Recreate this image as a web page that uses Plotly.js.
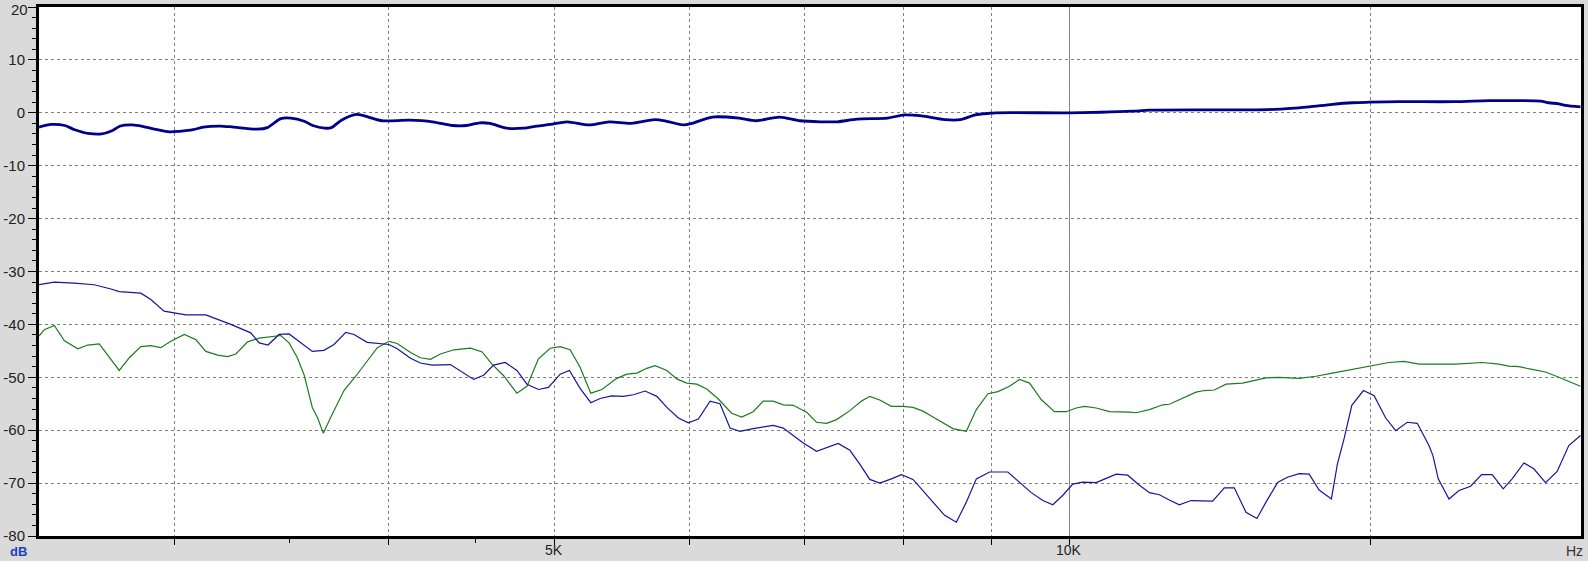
<!DOCTYPE html>
<html>
<head>
<meta charset="utf-8">
<script src="https://cdn.plot.ly/plotly-3.0.1.min.js"></script>
<style>
html,body{margin:0;padding:0;background:#dadada;}
#chart{width:1588px;height:561px;}
</style>
</head>
<body>
<div id="chart"></div>
<script>
// Frequency axis (Hz) and level (dB) values
var mainFreq = [2500,2542,2588,2623,2671,2720,2758,2789,2834,2886,2932,2979,3020,3076,3118,3190,3248,3353,3399,3461,3508,3572,3613,3671,3705,3755,3833,3894,3966,4113,4244,4362,4442,4523,4585,4690,4797,4886,4975,5087,5240,5384,5545,5725,5817,5950,6018,6184,6412,6560,6771,6958,7151,7315,7515,7828,8009,8193,8458,8632,8810,8972,9054,10000,10435,10888,11136,13053,13561,13805,14243,14632,14965,15579,16773,17581,18305,18846,19057,19315,19489,19886];
var mainDb = [-2.7,-2.2,-2.4,-3.2,-3.9,-4.0,-3.4,-2.5,-2.3,-2.7,-3.2,-3.6,-3.5,-3.2,-2.7,-2.5,-2.7,-3.1,-2.8,-1.1,-1.0,-1.6,-2.4,-2.9,-2.8,-1.4,-0.3,-0.8,-1.5,-1.4,-1.7,-2.4,-2.4,-1.9,-2.0,-2.9,-2.9,-2.5,-2.2,-1.7,-2.3,-1.7,-2.0,-1.3,-1.6,-2.3,-2.0,-0.8,-1.0,-1.5,-0.8,-1.5,-1.7,-1.7,-1.2,-1.0,-0.4,-0.6,-1.3,-1.3,-0.4,-0.1,0.0,0.0,0.1,0.3,0.5,0.6,0.9,1.1,1.6,1.9,2.0,2.1,2.1,2.3,2.3,2.2,1.9,1.7,1.4,1.1];

var blueFreq = [2500,2552,2621,2693,2754,2785,2867,2906,2958,3046,3129,3179,3236,3324,3362,3402,3453,3500,3571,3611,3668,3718,3777,3819,3888,3958,4003,4048,4121,4176,4243,4348,4427,4486,4547,4608,4681,4755,4820,4895,4961,5040,5103,5177,5252,5318,5402,5487,5562,5650,5740,5818,5909,5989,6070,6166,6249,6334,6420,6535,6713,6804,6896,6990,7116,7213,7326,7442,7542,7644,7747,7870,7976,8102,8211,8322,8454,8588,8704,8822,8981,9204,9350,9499,9648,9778,9911,10044,10181,10365,10506,10648,10815,10987,11136,11286,11438,11593,11777,11909,12124,12316,12482,12680,12868,13026,13230,13408,13621,13805,13991,14224,14339,14469,14620,14850,15066,15302,15510,15753,15966,16219,16306,16423,16662,16887,17155,17409,17659,17922,18139,18428,18676,18972,19271,19576,19886];
var blueDb = [-32.5,-32.0,-32.2,-32.5,-33.3,-33.8,-34.1,-35.3,-37.5,-38.2,-38.2,-39.0,-40.0,-41.6,-43.5,-43.9,-41.9,-41.8,-44.0,-45.1,-44.9,-43.8,-41.5,-41.9,-43.4,-43.6,-43.8,-44.6,-46.4,-47.3,-47.7,-47.6,-49.2,-50.4,-49.6,-47.7,-47.2,-48.7,-51.3,-52.3,-51.9,-49.4,-48.7,-52.1,-54.8,-54.0,-53.5,-53.6,-53.3,-52.6,-53.6,-55.7,-57.7,-58.6,-57.9,-54.5,-55.0,-59.6,-60.2,-59.7,-59.1,-59.6,-61.0,-62.4,-64.0,-63.3,-62.5,-63.8,-66.4,-69.3,-70.0,-69.2,-68.4,-69.3,-71.4,-73.6,-76.1,-77.4,-73.6,-69.2,-67.9,-67.9,-69.8,-71.8,-73.3,-74.1,-72.3,-70.2,-69.8,-69.9,-69.1,-68.3,-68.5,-70.4,-71.8,-72.2,-73.2,-74.1,-73.3,-73.3,-73.4,-70.9,-70.9,-75.5,-76.7,-73.6,-69.9,-68.9,-68.2,-68.3,-71.3,-73.0,-66.4,-61.6,-55.3,-52.5,-53.5,-57.7,-60.1,-58.5,-58.7,-62.9,-64.8,-69.2,-73.0,-71.4,-70.6,-68.4,-68.4,-71.1,-69.2,-66.2,-67.3,-69.9,-67.8,-62.9,-61.0];

var greenFreq = [2500,2518,2552,2587,2634,2669,2711,2754,2785,2823,2867,2906,2945,2985,3040,3088,3129,3179,3222,3258,3310,3362,3414,3461,3500,3539,3571,3611,3636,3665,3701,3768,3828,3888,3941,4003,4048,4121,4176,4233,4290,4368,4467,4538,4598,4671,4755,4820,4895,4973,5040,5108,5177,5252,5331,5439,5513,5588,5663,5727,5818,5896,5976,6056,6139,6235,6348,6434,6535,6623,6713,6804,6896,7022,7116,7213,7310,7442,7559,7644,7747,7870,7994,8102,8211,8322,8435,8549,8704,8822,8961,9082,9225,9350,9477,9627,9800,9955,10091,10204,10365,10553,10840,10938,11136,11336,11438,11644,11856,11988,12151,12345,12622,13026,13260,13621,13930,14243,14568,14965,15370,15684,16003,16292,16812,17424,17820,18060,18305,18634,18972,19315,19665,19886];
var greenDb = [-42.2,-41.0,-40.2,-43.1,-44.6,-43.9,-43.7,-46.6,-48.7,-46.3,-44.2,-44.0,-44.4,-43.2,-41.9,-42.9,-45.1,-45.8,-46.1,-45.6,-43.3,-42.6,-42.4,-42.1,-43.5,-46.3,-49.5,-55.7,-57.6,-60.6,-57.6,-52.5,-49.8,-46.9,-44.4,-43.2,-43.6,-45.3,-46.3,-46.6,-45.6,-44.8,-44.5,-45.2,-47.5,-49.7,-53.0,-51.7,-46.5,-44.5,-44.2,-44.8,-48.1,-53.0,-52.3,-50.2,-49.4,-49.2,-48.3,-47.8,-48.7,-50.3,-51.1,-51.3,-52.2,-54.1,-56.8,-57.5,-56.5,-54.5,-54.5,-55.2,-55.3,-56.6,-58.5,-58.7,-58.0,-56.3,-54.5,-53.6,-54.3,-55.5,-55.5,-55.7,-56.4,-57.5,-58.6,-59.7,-60.2,-56.1,-53.1,-52.7,-51.7,-50.4,-51.1,-54.2,-56.5,-56.5,-55.8,-55.5,-55.8,-56.5,-56.6,-56.7,-56.1,-55.2,-55.1,-54.0,-52.8,-52.5,-52.4,-51.3,-51.1,-50.1,-50.0,-50.2,-49.8,-49.2,-48.6,-47.9,-47.2,-47.0,-47.5,-47.5,-47.5,-47.2,-47.5,-47.9,-48.0,-48.5,-49.0,-50.0,-51.0,-51.7];

var yTickVals = [20,10,0,-10,-20,-30,-40,-50,-60,-70,-80];
var yTickText = ['','10','0','-10','-20','-30','-40','-50','-60','-70','-80'];
var xGridVals = [3000,4000,5000,6000,7000,8000,9000,10000,15000];
var xLabelVals = [5000,10000];
var xLabelText = ['5K','10K'];
var xMinorVals = [3500,4500];

var traces = [
  {x: greenFreq, y: greenDb, type:'scatter', mode:'lines', line:{color:'#1e7a1e', width:1.2}, hoverinfo:'skip'},
  {x: blueFreq, y: blueDb, type:'scatter', mode:'lines', line:{color:'#15159c', width:1.2}, hoverinfo:'skip'},
  {x: mainFreq, y: mainDb, type:'scatter', mode:'lines', line:{color:'#00008a', width:2.8, shape:'spline', smoothing:0.8}, hoverinfo:'skip'}
];

var FONT = '"Liberation Sans", Arial, sans-serif';
var annotations = [
  {text:'<b>dB</b>', xref:'paper', yref:'paper', x:-0.013, y:-0.029, xanchor:'center', yanchor:'middle', showarrow:false, font:{size:13, color:'#1f3fbf', family:FONT}},
  {text:'Hz', xref:'paper', yref:'paper', x:0.996, y:-0.028, xanchor:'center', yanchor:'middle', showarrow:false, font:{size:14, color:'#333', family:FONT}},
  {text:String(yTickVals[0]), xref:'paper', yref:'y', x:0, y:yTickVals[0], xanchor:'right', yanchor:'middle', xshift:-9, yshift:-2, showarrow:false, font:{size:15, color:'#222', family:FONT}}
];
for (var i = 0; i < xLabelVals.length; i++) {
  annotations.push({text:xLabelText[i], xref:'x', yref:'paper', x:Math.log10(xLabelVals[i]), y:-0.026, xanchor:'center', yanchor:'middle', showarrow:false, font:{size:14, color:'#222', family:FONT}});
}

var layout = {
  width:1588, height:561,
  margin:{l:39, r:7, t:7, b:25, pad:0},
  paper_bgcolor:'#dadada',
  plot_bgcolor:'#ffffff',
  showlegend:false,
  font:{family:FONT, size:15, color:'#222'},
  xaxis:{
    type:'log',
    range:[Math.log10(2500), Math.log10(19900)],
    tickmode:'array', tickvals:xGridVals, showticklabels:false,
    ticks:'outside', ticklen:6, tickwidth:1, tickcolor:'#000',
    showgrid:true, gridcolor:'#808080', gridwidth:1, griddash:'3px,3px',
    minor:{tickmode:'array', tickvals:xMinorVals, ticks:'outside', ticklen:4, tickwidth:1, tickcolor:'#000', showgrid:false},
    showline:true, linecolor:'#000', linewidth:3, mirror:true,
    zeroline:false, fixedrange:true
  },
  yaxis:{
    range:[-80,20],
    tickmode:'array', tickvals:yTickVals, ticktext:yTickText,
    ticks:'outside', ticklen:8, tickwidth:1, tickcolor:'#000',
    showgrid:true, gridcolor:'#808080', gridwidth:1, griddash:'3px,3px',
    minor:{dtick:2, ticks:'outside', ticklen:4, tickwidth:1, tickcolor:'#000', showgrid:false},
    showline:true, linecolor:'#000', linewidth:3, mirror:true,
    zeroline:false, fixedrange:true,
    ticklabeloverflow:'allow',
    tickfont:{size:15, color:'#222'}
  },
  shapes:[
    {type:'line', xref:'x', yref:'paper', x0:10000, x1:10000, y0:0, y1:1, layer:'below', line:{color:'#8a8a8a', width:1}}
  ],
  annotations: annotations
};

Plotly.newPlot('chart', traces, layout, {staticPlot:true, displayModeBar:false});
</script>
</body>
</html>
